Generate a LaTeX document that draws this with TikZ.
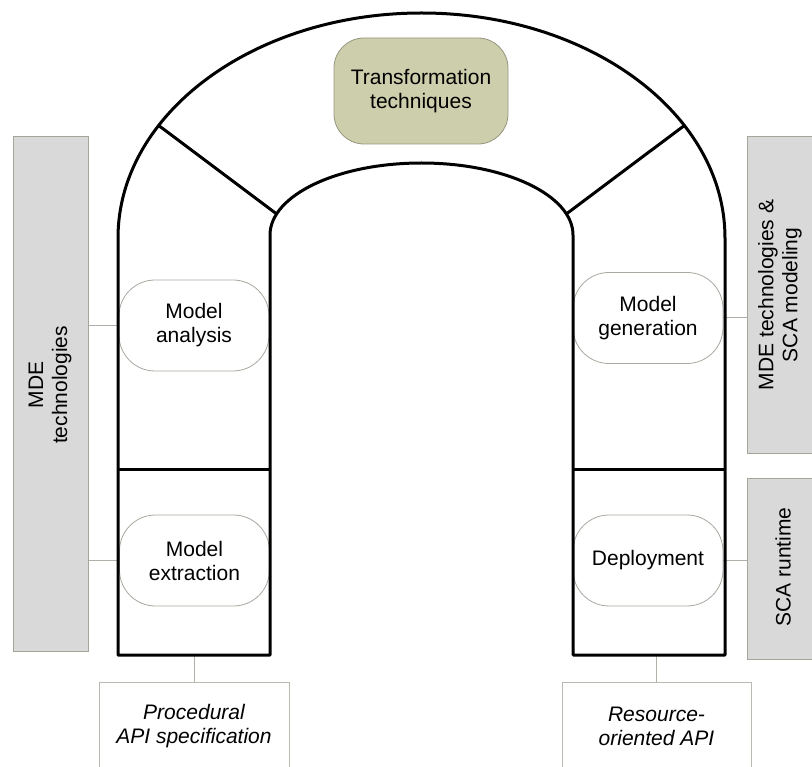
\documentclass[tikz,border=0pt]{standalone}
\usepackage{fontspec}
\setmainfont{Liberation Sans}
\definecolor{pillgray}{RGB}{168,168,160}
\definecolor{sidefill}{RGB}{217,217,217}
\definecolor{sidebd}{RGB}{165,165,154}
\definecolor{conngray}{RGB}{176,176,168}
\definecolor{tfill}{RGB}{205,206,172}
\definecolor{tbd}{RGB}{150,150,128}
\definecolor{botbd}{RGB}{185,185,178}
\begin{document}
\begin{tikzpicture}[x=1pt,y=-1pt,
  arch/.style={line width=3pt, line join=round},
  lab/.style={font=\fontsize{21}{24}\selectfont, align=center},
  pill/.style={lab, draw=pillgray, line width=0.8pt, fill=white, rounded corners=36pt,
    minimum width=150pt, minimum height=91pt, inner sep=0pt},
  side/.style={draw=sidebd, fill=sidefill, line width=0.8pt, inner sep=0pt},
  botbox/.style={lab, font=\fontsize{21}{24}\selectfont\itshape, draw=botbd, fill=white,
    line width=0.8pt, inner sep=0pt},
  conn/.style={draw=conngray, line width=1pt}]
\useasboundingbox (0,0) rectangle (812,767);
\clip (0,0) rectangle (812,767);

% side boxes
\node[side, anchor=north west, minimum width=75pt, minimum height=515pt] (mde) at (13,136) {};
\node[lab, rotate=90] (mdetxt) at (50,385) {MDE\\technologies};
\node[side, anchor=north west, minimum width=80pt, minimum height=317pt] (mdesca) at (747,136) {};
\node[lab, rotate=90] (mdescatxt) at (780,295) {MDE technologies \&\\SCA modeling};
\node[side, anchor=north west, minimum width=80pt, minimum height=181pt] (scart) at (747,478) {};
\node[lab, rotate=90] (scarttxt) at (783,567) {SCA runtime};

% bottom boxes
\node[botbox, minimum width=190pt, minimum height=88pt] (proc) at (194,726) {Procedural\\API specification};
\node[botbox, minimum width=189pt, minimum height=88pt] (res) at (656.5,726) {Resource-\\oriented API};

% pills
\node[pill] (ana) at (194,325.5) {Model\\analysis};
\node[pill] (ext) at (194.5,560.5) {Model\\extraction};
\node[pill] (gen) at (648,318) {Model\\generation};
\node[pill] (dep) at (648,560.5) {Deployment};

% transformation
\node[lab, draw=tbd, fill=tfill, line width=0.8pt, rounded corners=30pt,
  minimum width=174pt, minimum height=106pt, inner sep=0pt] (trans) at (421,91) {Transformation\\techniques};

% connectors
\coordinate (lb) at (194,655);
\coordinate (rb) at (656.5,655);
\draw[conn] (mde.east |- ana.west) -- (ana.west);
\draw[conn] (mde.east |- ext.west) -- (ext.west);
\draw[conn] (gen.east) -- (mdesca.west |- gen.east);
\draw[conn] (dep.east) -- (scart.west |- dep.east);
\draw[conn] (lb) -- (proc.north);
\draw[conn] (rb) -- (res.north);

% arch
\draw[arch] (118,655) -- (118,238)
  arc[start angle=180, end angle=360, x radius=303.5, y radius=225]
  -- (725,655) -- (573,655) -- (573,235)
  arc[start angle=0, end angle=-180, x radius=151.5, y radius=72]
  -- (270,655) -- cycle;
\draw[arch] (118,470) -- (270,470);
\draw[arch] (573,470) -- (725,470);
\coordinate (lo) at ({421.5+303.5*cos(150)},{238-225*sin(150)});
\coordinate (li) at ({421.5+151.5*cos(163)},{235-72*sin(163)});
\coordinate (ro) at ({421.5+303.5*cos(30)},{238-225*sin(30)});
\coordinate (ri) at ({421.5+151.5*cos(17)},{235-72*sin(17)});
\draw[arch] (lo) -- (li);
\draw[arch] (ro) -- (ri);
\end{tikzpicture}
\end{document}
